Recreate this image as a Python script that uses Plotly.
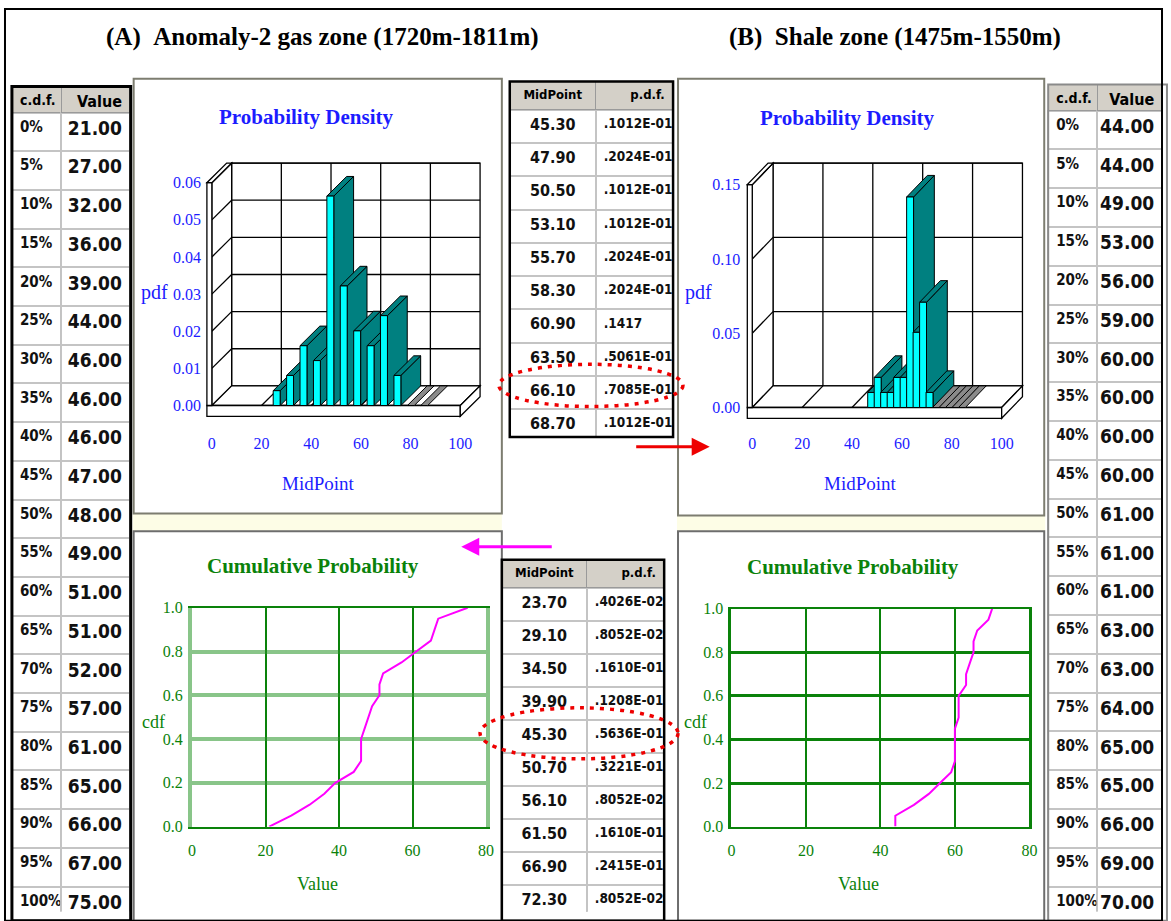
import plotly.graph_objects as go

W, H = 1171, 921

# ---------------- data ----------------
cdf_pct_labels = ["0%", "5%", "10%", "15%", "20%", "25%", "30%", "35%", "40%", "45%", "50%",
                  "55%", "60%", "65%", "70%", "75%", "80%", "85%", "90%", "95%", "100%"]
cdf_prob = [0.00, 0.05, 0.10, 0.15, 0.20, 0.25, 0.30, 0.35, 0.40, 0.45, 0.50,
            0.55, 0.60, 0.65, 0.70, 0.75, 0.80, 0.85, 0.90, 0.95, 1.00]
A_cdf_value = [21, 27, 32, 36, 39, 44, 46, 46, 46, 47, 48, 49, 51, 51, 52, 57, 61, 65, 66, 67, 75]
B_cdf_value = [44, 44, 49, 53, 56, 59, 60, 60, 60, 60, 61, 61, 61, 63, 63, 64, 65, 65, 66, 69, 70]

A_midpoint = [23.7, 29.1, 34.5, 39.9, 45.3, 50.7, 56.1, 61.5, 66.9, 72.3]
A_pdf_text = [".4026E-02", ".8052E-02", ".1610E-01", ".1208E-01", ".5636E-01",
              ".3221E-01", ".8052E-02", ".1610E-01", ".2415E-01", ".8052E-02"]
A_pdf_bar = [0.0040, 0.0081, 0.0161, 0.0121, 0.0564, 0.0322, 0.0201, 0.0161, 0.0242, 0.0081]
A_empty_midpoint = [77.7, 83.1]

B_midpoint = [45.3, 47.9, 50.5, 53.1, 55.7, 58.3, 60.9, 63.5, 66.1, 68.7]
B_pdf_text = [".1012E-01", ".2024E-01", ".1012E-01", ".1012E-01", ".2024E-01",
              ".2024E-01", ".1417", ".5061E-01", ".7085E-01", ".1012E-01"]
B_pdf_bar = [0.01012, 0.02024, 0.01012, 0.01012, 0.02024, 0.02024, 0.1417, 0.05061, 0.07085, 0.01012]
B_empty_midpoint = [71.3, 73.9, 76.5, 79.1, 81.7]

pdf_xticks = [0, 20, 40, 60, 80, 100]
A_pdf_yticks = [0.00, 0.01, 0.02, 0.03, 0.04, 0.05, 0.06]
B_pdf_yticks = [0.00, 0.05, 0.10, 0.15]
cdf_xticks = [0, 20, 40, 60, 80]
cdf_yticks = [0.0, 0.2, 0.4, 0.6, 0.8, 1.0]

# ---------------- styles ----------------
SERIF = "Liberation Serif, Times New Roman, serif"
NARROW = "DejaVu Sans Condensed, Liberation Sans Narrow, Arial Narrow, sans-serif"
BLUE = "#1c1cff"
GREEN = "#0a820a"
CYAN = "#00ffff"
TEAL = "#008080"
MAGENTA = "#ff00ff"


def fx(px):
    return px / W


def fy(py):
    return 1 - py / H


shapes = []
annotations = []
traces = []

# 3D panels config (pixel geometry)
P3 = {
    "A": dict(xa="x", ya="y", x0=210, ux=2.51, y0=405, uy=227 / 0.06,
              dom_x=(200, 495), dom_y=(145, 432), ddx=20, ddy=20),
    "B": dict(xa="x2", ya="y2", x0=756, ux=2.52, y0=407, uy=227 / 0.15,
              dom_x=(745, 1045), dom_y=(145, 432), ddx=21, ddy=22),
}


def path_of(pts):
    return "M " + " L ".join(f"{x},{y}" for x, y in pts) + " Z"


def box3d(cfg, xticks, yticks):
    xr, yr = cfg["xa"], cfg["ya"]
    dx = cfg["ddx"] / cfg["ux"]
    dy = cfg["ddy"] / cfg["uy"]
    slab = 11 / cfg["uy"]
    sl = 5 / cfg["ux"]
    xmin, xmax, ytop = xticks[0], xticks[-1], yticks[-1]

    def poly(pts, fill):
        shapes.append(dict(type="path", xref=xr, yref=yr, path=path_of(pts),
                           fillcolor=fill, line=dict(color="black", width=1.3), layer="below"))

    def seg(p, q):
        shapes.append(dict(type="line", xref=xr, yref=yr, x0=p[0], y0=p[1], x1=q[0], y1=q[1],
                           line=dict(color="black", width=1.3), layer="below"))

    poly([(xmin + dx, dy), (xmax + dx, dy), (xmax + dx, ytop + dy), (xmin + dx, ytop + dy)], "white")
    poly([(xmin, 0), (xmin + dx, dy), (xmin + dx, ytop + dy), (xmin, ytop)], "white")
    poly([(xmin, 0), (xmax, 0), (xmax + dx, dy), (xmin + dx, dy)], "white")
    for y in yticks[1:]:
        seg((xmin + dx, y + dy), (xmax + dx, y + dy))
        seg((xmin, y), (xmin + dx, y + dy))
    for x in xticks[1:-1]:
        seg((x + dx, dy), (x + dx, ytop + dy))
        seg((x, 0), (x + dx, dy))
    # slabs
    poly([(xmin - sl, -slab), (xmax, -slab), (xmax, 0), (xmin - sl, 0)], "white")
    poly([(xmax, -slab), (xmax + dx, dy - slab), (xmax + dx, dy), (xmax, 0)], "white")
    poly([(xmin - sl, 0), (xmin, 0), (xmin, ytop), (xmin - sl, ytop)], "white")
    poly([(xmin - sl, ytop), (xmin, ytop), (xmin + dx, ytop + dy), (xmin - sl + dx, ytop + dy)], "white")


def poly_trace(cfg, pts, fill):
    pts = pts + [pts[0]]
    traces.append(go.Scatter(x=[p[0] for p in pts], y=[p[1] for p in pts], mode="lines",
                             fill="toself", fillcolor=fill, line=dict(color="black", width=1),
                             xaxis=cfg["xa"], yaxis=cfg["ya"], hoverinfo="skip", showlegend=False))


def bars3d(cfg, mids, heights, empty_mids):
    dx = cfg["ddx"] / cfg["ux"]
    dy = cfg["ddy"] / cfg["uy"]
    off = 2.5 / cfg["ux"]
    w = 7 / cfg["ux"]
    for m, h in zip(mids, heights):
        xl = m + off
        xrr = xl + w
        poly_trace(cfg, [(xrr, 0), (xrr + dx, dy), (xrr + dx, h + dy), (xrr, h)], TEAL)
        poly_trace(cfg, [(xl, h), (xrr, h), (xrr + dx, h + dy), (xl + dx, h + dy)], TEAL)
        poly_trace(cfg, [(xl, 0), (xrr, 0), (xrr, h), (xl, h)], CYAN)
    for m in empty_mids:
        xl = m + off
        xrr = xl + w
        poly_trace(cfg, [(xl, 0), (xrr, 0), (xrr + dx, dy), (xl + dx, dy)], "#8a8a8a")


box3d(P3["A"], pdf_xticks, A_pdf_yticks)
box3d(P3["B"], pdf_xticks, B_pdf_yticks)
bars3d(P3["A"], A_midpoint, A_pdf_bar, A_empty_midpoint)
bars3d(P3["B"], B_midpoint, B_pdf_bar, B_empty_midpoint)

# cdf curves
traces.append(go.Scatter(x=A_cdf_value, y=cdf_prob, mode="lines", line=dict(color=MAGENTA, width=2),
                         xaxis="x3", yaxis="y3", showlegend=False))
traces.append(go.Scatter(x=B_cdf_value, y=cdf_prob, mode="lines", line=dict(color=MAGENTA, width=2),
                         xaxis="x4", yaxis="y4", showlegend=False))


# ---------------- tables ----------------
def table(x0, x1, y0, y1, headers, cols, colw, head_h, cell_h, halign, calign, fsizes, hsizes):
    return go.Table(
        domain=dict(x=[fx(x0), fx(x1)], y=[fy(y1), fy(y0)]),
        columnwidth=colw,
        header=dict(values=headers, fill_color="#d4d0c8", line=dict(color="#9a9a9a", width=1),
                    height=head_h, align=halign,
                    font=dict(family=NARROW, size=hsizes, color="black", weight="bold")),
        cells=dict(values=cols, fill_color="white", line=dict(color="#c4c4c4", width=2),
                   height=cell_h, align=calign,
                   font=dict(family=NARROW, size=fsizes, color="#111111", weight="bold")),
    )


traces.append(table(8, 128, 80, 921, ["c.d.f.", "Value"],
                    [cdf_pct_labels, [f"{v:.2f}" for v in A_cdf_value]],
                    [50, 70], 26, 38.7, ["left", "right"], ["left", "right"], [15, 19], [14, 16]))
traces.append(table(1055, 1171, 78, 921, ["c.d.f.", "Value"],
                    [cdf_pct_labels, [f"{v:.2f}" for v in B_cdf_value]],
                    [50, 66], 26, 38.8, ["left", "right"], ["left", "right"], [15, 19], [14, 16]))
traces.append(table(511, 676, 75, 437, ["MidPoint", "p.d.f."],
                    [[f"{v:.2f}" for v in B_midpoint], B_pdf_text],
                    [87, 78], 28, 33.3, ["center", "right"], ["center", "left"], [16, 13.5], [13, 13]))
traces.append(table(503, 667, 562, 921, ["MidPoint", "p.d.f."],
                    [[f"{v:.2f}" for v in A_midpoint], A_pdf_text],
                    [86, 78], 28, 33.0, ["center", "right"], ["center", "left"], [16, 13.5], [13, 13]))

fig = go.Figure(traces)


# ---------------- axes ----------------
def ax3d(cfg, yticks):
    d0, d1 = cfg["dom_x"]
    t0, t1 = cfg["dom_y"]
    xa = dict(domain=[fx(d0), fx(d1)], range=[(d0 - cfg["x0"]) / cfg["ux"], (d1 - cfg["x0"]) / cfg["ux"]],
              tickvals=pdf_xticks, showgrid=False, zeroline=False, showline=False, ticks="",
              tickfont=dict(family=SERIF, size=16, color=BLUE), anchor=cfg["ya"], fixedrange=True)
    ya = dict(domain=[fy(t1), fy(t0)], range=[(cfg["y0"] - t1) / cfg["uy"], (cfg["y0"] - t0) / cfg["uy"]],
              tickvals=yticks, tickformat=".2f", showgrid=False, zeroline=False, showline=False, ticks="",
              tickfont=dict(family=SERIF, size=16, color=BLUE), anchor=cfg["xa"], fixedrange=True)
    return xa, ya


xa1, ya1 = ax3d(P3["A"], A_pdf_yticks)
xa2, ya2 = ax3d(P3["B"], B_pdf_yticks)


def axcdf(xd, yd, anchor_x, anchor_y, hgrid_w, hgrid_c):
    xa = dict(domain=[fx(xd[0]), fx(xd[1])], range=[0, 80], tickvals=cdf_xticks, showgrid=True,
              gridcolor=GREEN, gridwidth=2, zeroline=False, showline=True, mirror=True,
              linecolor=GREEN, linewidth=2, ticks="", ticklabelstandoff=8,
              tickfont=dict(family=SERIF, size=16, color=GREEN), anchor=anchor_y, fixedrange=True)
    ya = dict(domain=[fy(yd[1]), fy(yd[0])], range=[0, 1], tickvals=cdf_yticks, tickformat=".1f",
              showgrid=True, gridcolor=hgrid_c, gridwidth=hgrid_w, zeroline=False, showline=True,
              mirror=True, linecolor=hgrid_c, linewidth=hgrid_w, ticks="", ticklabelstandoff=2,
              tickfont=dict(family=SERIF, size=16, color=GREEN), anchor=anchor_x, fixedrange=True)
    return xa, ya


xa3, ya3 = axcdf((190, 487), (611, 834), "x3", "y3", 4, "rgba(40,150,40,0.55)")
xa4, ya4 = axcdf((735, 1036), (612, 834), "x4", "y4", 3, GREEN)


# ---------------- frames / decorations ----------------
def rect(x0, y0, x1, y1, color, width, fill=None, layer="above"):
    d = dict(type="rect", xref="paper", yref="paper", x0=fx(x0), x1=fx(x1), y0=fy(y1), y1=fy(y0),
             line=dict(color=color, width=width), layer=layer)
    if fill:
        d["fillcolor"] = fill
    shapes.append(d)


# cream bands between panels
rect(130, 515, 503, 533, "rgba(0,0,0,0)", 0, fill="#fdfde6", layer="below")
rect(680, 517, 1052, 533, "rgba(0,0,0,0)", 0, fill="#fdfde6", layer="below")
# panel frames
rect(131, 72, 503, 515, "#7d7d70", 2)
rect(681, 72, 1051, 517, "#7d7d70", 2)
rect(131, 533, 503, 930, "#6d6d6d", 2)
rect(681, 533, 1051, 930, "#6d6d6d", 2)
# table frames
rect(8, 80, 128, 930, "black", 3)
rect(1055, 78, 1175, 930, "#8a8a8a", 2)
rect(511, 75, 676, 437, "black", 2.5)
rect(503, 562, 667, 930, "black", 2.5)
# outer border
rect(1, 1, 1170, 930, "black", 2)

# dotted red ellipses
for (x0, y0, x1, y1) in [(500, 363, 686, 406), (481, 713, 681, 765)]:
    shapes.append(dict(type="circle", xref="paper", yref="paper", x0=fx(x0), x1=fx(x1),
                       y0=fy(y1), y1=fy(y0), line=dict(color="#ee0000", width=3.5, dash="4px,6px"),
                       layer="above"))

# arrows
annotations.append(dict(x=fx(713), y=fy(447), xref="paper", yref="paper", ax=-75, ay=0, text="",
                        showarrow=True, arrowhead=2, arrowsize=1.2, arrowwidth=3, arrowcolor="#ee0000"))
annotations.append(dict(x=fx(462), y=fy(549), xref="paper", yref="paper", ax=92, ay=0, text="",
                        showarrow=True, arrowhead=2, arrowsize=1.2, arrowwidth=3, arrowcolor=MAGENTA))


def label(px, py, text, color, size, bold=False, family=SERIF):
    annotations.append(dict(x=fx(px), y=fy(py), xref="paper", yref="paper", text=text,
                            showarrow=False, xanchor="center", yanchor="middle",
                            font=dict(family=family, size=size, color=color,
                                      weight="bold" if bold else "normal")))


label(322, 30, "(A)\u00a0\u00a0Anomaly-2 gas zone (1720m-1811m)", "black", 25, True)
label(900, 30, "(B)\u00a0\u00a0Shale zone (1475m-1550m)", "black", 25, True)
label(306, 111, "Probability Density", BLUE, 21, True)
label(852, 112, "Probability Density", BLUE, 21, True)
label(152, 290, "pdf", BLUE, 20)
label(702, 290, "pdf", BLUE, 20)
label(318, 484, "MidPoint", BLUE, 19)
label(865, 484, "MidPoint", BLUE, 19)
label(312, 568, "Cumulative Probability", GREEN, 21, True)
label(858, 570, "Cumulative Probability", GREEN, 21, True)
label(151, 727, "cdf", GREEN, 18)
label(699, 727, "cdf", GREEN, 18)
label(317, 892, "Value", GREEN, 18)
label(863, 892, "Value", GREEN, 18)

fig.update_layout(
    width=W, height=H, autosize=False, margin=dict(l=0, r=0, t=0, b=0),
    paper_bgcolor="white", plot_bgcolor="rgba(0,0,0,0)", showlegend=False,
    xaxis=xa1, yaxis=ya1, xaxis2=xa2, yaxis2=ya2, xaxis3=xa3, yaxis3=ya3, xaxis4=xa4, yaxis4=ya4,
    shapes=shapes, annotations=annotations,
)

fig.write_html("out.html")
